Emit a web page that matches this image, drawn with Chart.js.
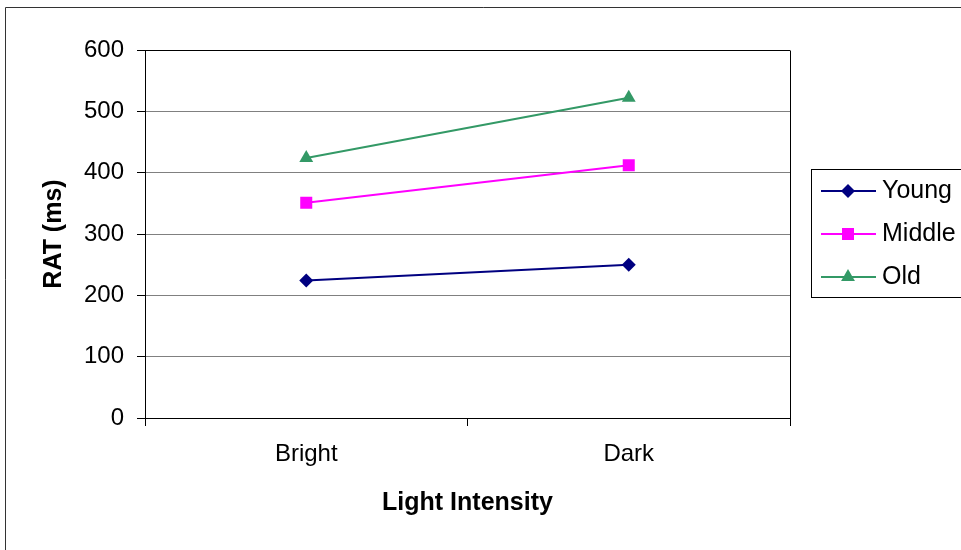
<!DOCTYPE html>
<html>
<head>
<meta charset="utf-8">
<title>RAT by Light Intensity</title>
<script src="https://cdn.jsdelivr.net/npm/chart.js@4"></script>
<style>
  body { margin: 0; background: #fff; }
  #wrap { width: 961px; height: 550px; }
</style>
</head>
<body>
<div id="wrap"><canvas id="ratChart" width="961" height="550"></canvas></div>
<script>
// Categories and series values
const categories = ['Bright', 'Dark'];
const youngRat = [224, 250];
const middleRat = [351, 412];
const oldRat = [424, 522];
const yMin = 0;
const yMax = 600;
const yStep = 100;

const FONT = '"Liberation Sans", Arial, sans-serif';

// outer frame + plot area border (right edge)
const framePlugin = {
    id: 'frame',
    beforeDraw(chart) {
        const ctx = chart.ctx;
        ctx.save();
        ctx.fillStyle = '#fff';
        ctx.fillRect(0, 0, chart.width, chart.height);
        ctx.strokeStyle = '#333';
        ctx.lineWidth = 1;
        ctx.beginPath();
        ctx.moveTo(5.5, chart.height + 5);
        ctx.lineTo(5.5, 7.5);
        ctx.lineTo(chart.width + 5, 7.5);
        ctx.stroke();
        ctx.restore();
    },
    afterDraw(chart) {
        const a = chart.chartArea;
        const ctx = chart.ctx;
        ctx.save();
        ctx.strokeStyle = '#000';
        ctx.lineWidth = 1;
        ctx.beginPath();
        ctx.moveTo(Math.round(a.right) + 0.5, Math.round(a.bottom));
        ctx.lineTo(Math.round(a.right) + 0.5, Math.round(a.top) + 0.5);
        ctx.stroke();
        ctx.restore();
    }
};

function drawMarker(ctx, style, r, x, y, color) {
    ctx.fillStyle = color;
    ctx.beginPath();
    if (style === 'rectRot') {
        ctx.moveTo(x - r, y);
        ctx.lineTo(x, y - r);
        ctx.lineTo(x + r, y);
        ctx.lineTo(x, y + r);
    } else if (style === 'rect') {
        const s = Math.SQRT1_2 * r;
        ctx.rect(x - s, y - s, 2 * s, 2 * s);
    } else if (style === 'triangle') {
        ctx.moveTo(x, y - r);
        ctx.lineTo(x + r * Math.sin(Math.PI / 3), y + r / 2);
        ctx.lineTo(x - r * Math.sin(Math.PI / 3), y + r / 2);
    }
    ctx.closePath();
    ctx.fill();
}

// boxed legend on the right, line + marker samples
const boxLegend = {
    id: 'boxLegend',
    afterDraw(chart) {
        const ctx = chart.ctx;
        ctx.save();
        ctx.strokeStyle = '#000';
        ctx.lineWidth = 1;
        ctx.strokeRect(811.5, 169.5, 200, 128);
        chart.data.datasets.forEach((ds, i) => {
            const y = 191 + i * 43;
            ctx.strokeStyle = ds.borderColor;
            ctx.lineWidth = 2;
            ctx.beginPath();
            ctx.moveTo(821, y);
            ctx.lineTo(876, y);
            ctx.stroke();
            drawMarker(ctx, ds.pointStyle, ds.pointRadius, 848, y, ds.borderColor);
            ctx.fillStyle = '#000';
            ctx.font = '25px ' + FONT;
            ctx.textBaseline = 'middle';
            ctx.textAlign = 'left';
            ctx.fillText(ds.label, 882, y);
        });
        ctx.restore();
    }
};

const ctx = document.getElementById('ratChart').getContext('2d');
const ratChart = new Chart(ctx, {
    type: 'line',
    data: {
        labels: categories,
        datasets: [
            {
                label: 'Young',
                data: youngRat,
                borderColor: '#000080',
                backgroundColor: '#000080',
                pointStyle: 'rectRot',
                pointRadius: 7,
                borderWidth: 2,
                pointBorderWidth: 0,
                tension: 0
            },
            {
                label: 'Middle',
                data: middleRat,
                borderColor: '#ff00ff',
                backgroundColor: '#ff00ff',
                pointStyle: 'rect',
                pointRadius: 8.5,
                borderWidth: 2,
                pointBorderWidth: 0,
                tension: 0
            },
            {
                label: 'Old',
                data: oldRat,
                borderColor: '#339966',
                backgroundColor: '#339966',
                pointStyle: 'triangle',
                pointRadius: 8,
                borderWidth: 2,
                pointBorderWidth: 0,
                tension: 0
            }
        ]
    },
    options: {
        responsive: false,
        animation: false,
        layout: { padding: { top: 50, right: 171, bottom: 0, left: 0 } },
        plugins: {
            legend: { display: false },
            tooltip: { enabled: false }
        },
        scales: {
            x: {
                type: 'category',
                offset: true,
                afterFit(scale) { scale.height = 132; },
                grid: {
                    offset: true,
                    drawOnChartArea: false,
                    tickLength: 8,
                    color: '#000'
                },
                border: { color: '#000', width: 1 },
                ticks: {
                    color: '#000',
                    font: { family: FONT, size: 24 },
                    padding: 14
                },
                title: {
                    display: true,
                    text: 'Light Intensity',
                    color: '#000',
                    font: { family: FONT, size: 25, weight: 'bold' },
                    padding: { top: 0, bottom: 32 }
                }
            },
            y: {
                min: yMin,
                max: yMax,
                afterFit(scale) { scale.width = 145; },
                grid: {
                    tickLength: 8,
                    tickColor: '#000',
                    color: c => (c.tick && c.tick.value === yMax ? '#000' : '#808080')
                },
                border: { color: '#000', width: 1 },
                ticks: {
                    stepSize: yStep,
                    color: '#000',
                    font: { family: FONT, size: 24 },
                    padding: 13
                },
                title: {
                    display: true,
                    text: 'RAT (ms)',
                    color: '#000',
                    font: { family: FONT, size: 25, weight: 'bold' },
                    padding: { top: 39, bottom: 0 }
                }
            }
        }
    },
    plugins: [framePlugin, boxLegend]
});
</script>
</body>
</html>
